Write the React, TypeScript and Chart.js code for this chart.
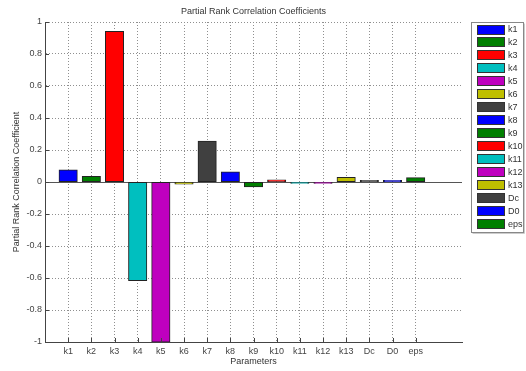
import React, { useEffect, useRef } from "react";
import { Chart, registerables } from "chart.js";

Chart.register(...registerables);

const categories = ["k1", "k2", "k3", "k4", "k5", "k6", "k7", "k8", "k9", "k10", "k11", "k12", "k13", "Dc", "D0", "eps"];
const prccValues = [0.075, 0.035, 0.94, -0.615, -1.0, -0.012, 0.255, 0.062, -0.03, 0.012, -0.008, -0.008, 0.028, 0.009, 0.009, 0.026];
const barColors = [
  "#0000FF", "#007F00", "#FF0000", "#00BFBF", "#BF00BF", "#BFBF00", "#404040",
  "#0000FF", "#007F00", "#FF0000", "#00BFBF", "#BF00BF", "#BFBF00", "#404040",
  "#0000FF", "#007F00",
];
const yTickValues = [-1, -0.8, -0.6, -0.4, -0.2, 0, 0.2, 0.4, 0.6, 0.8, 1];
const xMin = 0;
const xMax = 18;
const chartTitle = "Partial Rank Correlation Coefficients";

const FONT = "'Liberation Sans', Arial, sans-serif";
const GRID = "#8f8f8f";

const extrasPlugin = {
  id: "matlabExtras",
  beforeDatasetsDraw(chart: any) {
    const { ctx, chartArea, scales } = chart;
    const y0 = scales.y.getPixelForValue(0);
    ctx.save();
    ctx.strokeStyle = "#555";
    ctx.lineWidth = 1;
    ctx.beginPath();
    ctx.moveTo(chartArea.left, Math.round(y0) + 0.5);
    ctx.lineTo(chartArea.right, Math.round(y0) + 0.5);
    ctx.stroke();
    ctx.restore();
  },
  afterDraw(chart: any) {
    const { ctx, chartArea, scales } = chart;
    ctx.save();
    // title centred over the axes
    ctx.font = `9px ${FONT}`;
    ctx.fillStyle = "#333";
    ctx.textAlign = "center";
    ctx.textBaseline = "middle";
    ctx.fillText(chartTitle, (chartArea.left + chartArea.right) / 2, 11.5);

    // inward tick marks
    ctx.strokeStyle = "#444";
    ctx.lineWidth = 1;
    ctx.beginPath();
    categories.forEach((_, i) => {
      const x = Math.round(scales.x.getPixelForValue(i + 1)) + 0.5;
      ctx.moveTo(x, chartArea.bottom);
      ctx.lineTo(x, chartArea.bottom - 4);
    });
    yTickValues.forEach((v) => {
      const y = Math.round(scales.y.getPixelForValue(v)) + 0.5;
      ctx.moveTo(chartArea.left, y);
      ctx.lineTo(chartArea.left + 4, y);
    });
    ctx.stroke();

    // legend
    const bx = 471.5, by = 22.5, bw = 52, bh = 210;
    ctx.fillStyle = "#ffffff";
    ctx.fillRect(bx, by, bw, bh);
    ctx.strokeStyle = "#888";
    ctx.strokeRect(bx, by, bw, bh);
    ctx.strokeStyle = "#ccc";
    ctx.beginPath();
    ctx.moveTo(bx + bw + 1, by + 1);
    ctx.lineTo(bx + bw + 1, by + bh + 1);
    ctx.lineTo(bx + 1, by + bh + 1);
    ctx.stroke();
    ctx.font = `9px ${FONT}`;
    ctx.textBaseline = "middle";
    ctx.textAlign = "left";
    categories.forEach((name, i) => {
      const cy = 29.5 + i * 12.96;
      ctx.fillStyle = barColors[i];
      ctx.fillRect(477, Math.round(cy - 5), 28, 10);
      ctx.strokeStyle = "#333";
      ctx.strokeRect(477.5, Math.round(cy - 5) + 0.5, 27, 9);
      ctx.fillStyle = "#333";
      ctx.fillText(name, 508, cy + 0.5);
    });
    ctx.restore();
  },
};

export default function App() {
  const ref = useRef<HTMLCanvasElement | null>(null);

  useEffect(() => {
    document.body.style.margin = "0";
    if (!ref.current) return;
    const chart = new Chart(ref.current, {
      type: "bar",
      data: {
        datasets: [
          {
            label: "PRCC",
            data: prccValues.map((v, i) => ({ x: i + 1, y: v })),
            backgroundColor: barColors,
            borderColor: "#222",
            borderWidth: 1,
            borderSkipped: false,
            inflateAmount: 0.5,
            categoryPercentage: 1,
            barPercentage: 0.78,
          } as any,
        ],
      },
      options: {
        responsive: false,
        animation: false,
        layout: { padding: { left: 0, right: 64, top: 22, bottom: 0 } },
        plugins: {
          legend: { display: false },
          tooltip: { enabled: false },
          title: { display: false },
        },
        scales: {
          x: {
            type: "linear",
            min: xMin,
            max: xMax,
            offset: false,
            afterBuildTicks: (scale: any) => {
              const t = [];
              for (let v = xMin; v <= xMax; v++) t.push({ value: v });
              scale.ticks = t;
            },
            afterFit: (scale: any) => {
              scale.height = 29;
            },
            ticks: {
              autoSkip: false,
              maxRotation: 0,
              padding: 4,
              color: "#444",
              font: { family: FONT, size: 9 },
              callback: (v: any) => (v >= 1 && v <= categories.length ? categories[v - 1] : ""),
            },
            grid: {
              offset: false,
              drawTicks: false,
              lineWidth: 1,
              color: (c: any) => {
                const v = c.tick ? c.tick.value : 0;
                return v >= 1 && v <= categories.length ? GRID : "rgba(0,0,0,0)";
              },
            },
            border: { display: true, color: "#444", dash: [1, 2] },
            title: {
              display: true,
              text: "Parameters",
              color: "#333",
              font: { family: FONT, size: 9 },
              padding: { top: 0, bottom: 4 },
            },
          },
          y: {
            type: "linear",
            min: -1,
            max: 1,
            afterBuildTicks: (scale: any) => {
              scale.ticks = yTickValues.map((v) => ({ value: v }));
            },
            afterFit: (scale: any) => {
              scale.width = 45;
            },
            ticks: {
              padding: 3,
              color: "#444",
              font: { family: FONT, size: 9 },
              callback: (v: any) => String(Math.round(Number(v) * 10) / 10),
            },
            grid: {
              drawTicks: false,
              lineWidth: 1,
              color: (c: any) => {
                const v = c.tick ? c.tick.value : 0;
                return v === 0 || v === -1 ? "rgba(0,0,0,0)" : GRID;
              },
            },
            border: { display: true, color: "#444", dash: [1, 2] },
            title: {
              display: true,
              text: "Partial Rank Correlation Coefficient",
              color: "#333",
              font: { family: FONT, size: 9 },
              padding: { top: 11, bottom: 0 },
            },
          },
        },
      } as any,
      plugins: [extrasPlugin],
    });
    return () => chart.destroy();
  }, []);

  return (
    <div style={{ position: "absolute", left: 0, top: 0, width: 526, height: 371, background: "#fff" }}>
      <canvas ref={ref} width={526} height={371} style={{ width: 526, height: 371 }} />
    </div>
  );
}
